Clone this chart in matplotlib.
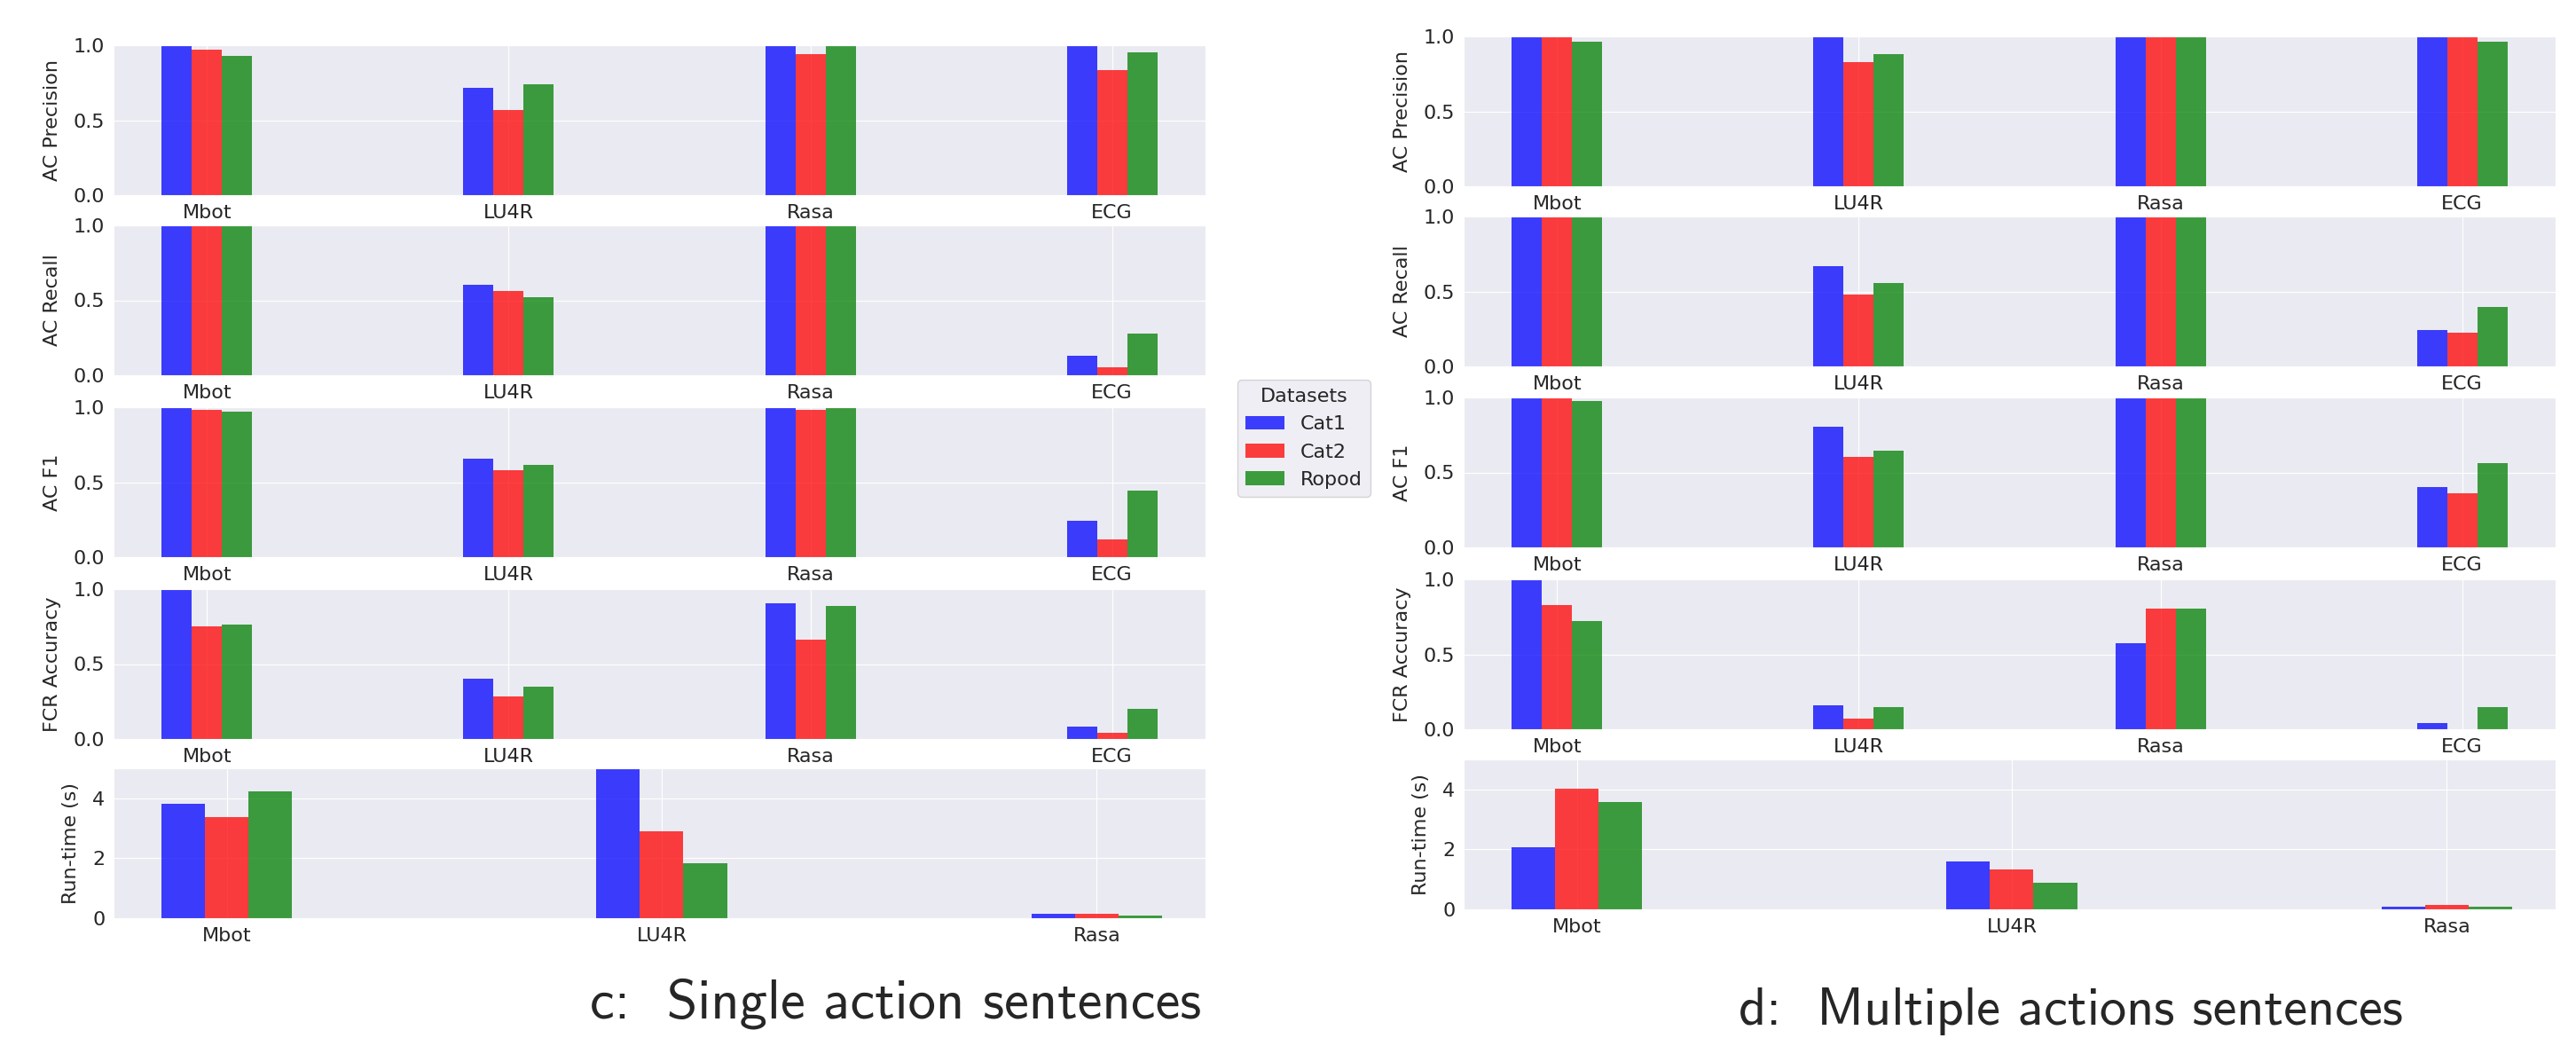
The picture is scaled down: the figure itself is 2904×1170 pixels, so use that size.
import numpy as np
import matplotlib
matplotlib.use("Agg")
import matplotlib.pyplot as plt
import seaborn as sns
from matplotlib.patches import Patch

DATASETS = ["Cat1", "Cat2", "Ropod"]
COLORS = ["blue", "red", "green"]
SYSTEMS = ["Mbot", "LU4R", "Rasa", "ECG"]
RT_SYSTEMS = ["Mbot", "LU4R", "Rasa"]
METRICS = ["AC Precision", "AC Recall", "AC F1", "FCR Accuracy", "Run-time (s)"]

# c: single action sentences, one list per dataset (Cat1, Cat2, Ropod)
single_precision = [[1.0, 0.714, 1.0, 1.0], [0.968, 0.566, 0.943, 0.836], [0.929, 0.740, 1.0, 0.955]]
single_recall = [[1.0, 0.602, 1.0, 0.133], [1.0, 0.561, 1.0, 0.055], [1.0, 0.522, 1.0, 0.280]]
single_f1 = [[1.0, 0.658, 1.0, 0.241], [0.980, 0.579, 0.980, 0.121], [0.968, 0.617, 1.0, 0.443]]
single_fcr = [[1.0, 0.404, 0.903, 0.081], [0.754, 0.283, 0.661, 0.042], [0.766, 0.349, 0.887, 0.202]]
single_runtime = [[3.81, 4.96, 0.15], [3.36, 2.90, 0.15], [4.23, 1.82, 0.09]]

# d: multiple actions sentences
multi_precision = [[1.0, 1.0, 1.0, 1.0], [1.0, 0.831, 1.0, 1.0], [0.965, 0.882, 1.0, 0.965]]
multi_recall = [[1.0, 0.667, 1.0, 0.240], [1.0, 0.480, 1.0, 0.226], [1.0, 0.559, 1.0, 0.398]]
multi_f1 = [[1.0, 0.802, 1.0, 0.402], [1.0, 0.602, 1.0, 0.363], [0.976, 0.643, 1.0, 0.561]]
multi_fcr = [[1.0, 0.161, 0.576, 0.043], [0.829, 0.071, 0.804, 0.0], [0.721, 0.147, 0.804, 0.147]]
multi_runtime = [[2.07, 1.61, 0.08], [4.03, 1.34, 0.14], [3.57, 0.88, 0.08]]

W, H = 2904, 1170
AX_W = 1231
AX_H = 169


def draw_metric(ax, values, labels, metric):
    x = np.arange(len(labels))
    width = 0.1
    for i, (vals, color) in enumerate(zip(values, COLORS)):
        ax.bar(x + (i - 1) * width, vals, width, color=color, alpha=0.75, linewidth=0)
    ax.set_xticks(x)
    ax.set_xticklabels(labels)
    if metric.startswith("Run"):
        ax.set_xlim(-0.26, len(labels) - 0.75)
        ax.set_ylim(0, 5)
        ax.set_yticks([0, 2, 4])
    else:
        ax.set_xlim(-0.31, len(labels) - 0.69)
        ax.set_ylim(0, 1)
        ax.set_yticks([0, 0.5, 1.0])
        ax.set_yticklabels(["0.0", "0.5", "1.0"])
    ax.set_ylabel(metric, fontsize=16, labelpad=10)
    ax.tick_params(length=0, pad=7, labelsize=16)


def draw_panel(fig, left_px, tops_px, data):
    for top, (metric, values) in zip(tops_px, zip(METRICS, data)):
        ax = fig.add_axes([left_px / W, 1 - (top + AX_H) / H, AX_W / W, AX_H / H])
        labels = RT_SYSTEMS if metric.startswith("Run") else SYSTEMS
        draw_metric(ax, values, labels, metric)


sns.set_style("darkgrid")
plt.rcParams["font.family"] = ["DejaVu Sans"]

fig = plt.figure(figsize=(W / 100, H / 100), dpi=100)

draw_panel(fig, 128, [51, 254, 459, 664, 866],
           [single_precision, single_recall, single_f1, single_fcr, single_runtime])
draw_panel(fig, 1650, [41, 244, 448, 653, 856],
           [multi_precision, multi_recall, multi_f1, multi_fcr, multi_runtime])

handles = [Patch(facecolor=c, alpha=0.75, linewidth=0) for c in COLORS]
fig.legend(handles, DATASETS, title="Datasets", loc="center",
           bbox_to_anchor=(1470 / W, 1 - 494 / H), fontsize=16, title_fontsize=16,
           facecolor="#EAEAF2", edgecolor="0.8", framealpha=0.8)

fig.text(1010 / W, 1 - 1148 / H, "c:  Single action sentences", family="cmss10",
         fontsize=45, ha="center", va="baseline")
fig.text(2334 / W, 1 - 1155 / H, "d:  Multiple actions sentences", family="cmss10",
         fontsize=43.5, ha="center", va="baseline")

fig.savefig("out.png", dpi=100)
